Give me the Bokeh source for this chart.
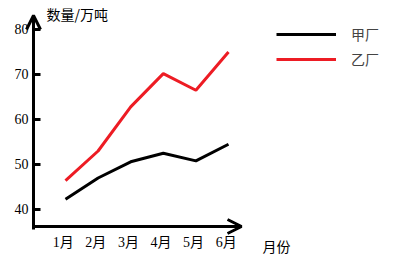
from bokeh.plotting import figure
from bokeh.models import Range1d, Legend, LegendItem, Arrow, OpenHead, Label
from bokeh.core.properties import value
from bokeh.embed import file_html
from bokeh.resources import INLINE

# ---- data ----
months = ["1月", "2月", "3月", "4月", "5月", "6月"]
jia = [42.3, 47.0, 50.6, 52.5, 50.8, 54.5]   # 甲厂
yi = [46.4, 53.0, 62.8, 70.2, 66.5, 75.0]    # 乙厂
y_ticks = [40, 50, 60, 70, 80]
y_title = "数量/万吨"
x_title = "月份"
series_names = ["甲厂", "乙厂"]

# ---- layout (pixels) ----
W, H = 406, 275
x0, x1 = -0.9939, 11.460
y0, y1 = 25.333, 86.444

def dx(px):
    return x0 + px / W * (x1 - x0)

def dy(py):
    return y1 - py / H * (y1 - y0)

FONT = "Liberation Serif, Noto Sans CJK SC"
CJK = "Noto Sans CJK SC"

p = figure(width=W, height=H, output_backend="svg", toolbar_location=None,
           x_range=Range1d(x0, x1), y_range=Range1d(y0, y1), min_border=0)
p.axis.visible = False
p.grid.visible = False
p.outline_line_color = None
p.background_fill_color = "white"
p.border_fill_color = "white"

xs = list(range(1, len(months) + 1))

# axes drawn on the plot's own scales
ax_x = dx(33)
ax_y = dy(226)
p.segment(x0=[ax_x], y0=[dy(15)], x1=[ax_x], y1=[dy(229)], line_color="black", line_width=3)
p.segment(x0=[ax_x], y0=[ax_y], x1=[dx(241)], y1=[ax_y], line_color="black", line_width=3)
p.segment(x0=[ax_x] * len(y_ticks), y0=y_ticks, x1=[dx(40)] * len(y_ticks), y1=y_ticks,
          line_color="black", line_width=3)
p.text(x=[dx(28)] * len(y_ticks), y=y_ticks, text=[str(t) for t in y_ticks],
       text_align="right", text_baseline="middle", text_font=value(FONT),
       text_font_size="14px", text_color="black")
p.text(x=[x - 0.07 for x in xs], y=[dy(242)] * len(xs), text=months,
       text_align="center", text_baseline="middle", text_font=value(FONT),
       text_font_size="14px", text_color="black")

r1 = p.line(xs, jia, line_color="black", line_width=3)
r2 = p.line(xs, yi, line_color="#ED1C24", line_width=3)

# arrow heads
p.add_layout(Arrow(end=OpenHead(size=14, line_width=3, line_color="black"),
                   x_start=ax_x, y_start=dy(17), x_end=ax_x, y_end=dy(15),
                   line_width=3, line_color="black"))
p.add_layout(Arrow(end=OpenHead(size=14, line_width=3, line_color="black"),
                   x_start=dx(238), y_start=ax_y, x_end=dx(241), y_end=ax_y,
                   line_width=3, line_color="black"))

# titles
p.add_layout(Label(x=dx(46), y=dy(13), text=y_title, text_baseline="middle",
                   text_font=CJK, text_font_size="14px", text_color="black"))
p.add_layout(Label(x=dx(262), y=dy(245), text=x_title, text_baseline="middle",
                   text_font=CJK, text_font_size="14px", text_color="black"))

legend = Legend(items=[LegendItem(label=series_names[0], renderers=[r1]),
                       LegendItem(label=series_names[1], renderers=[r2])],
                location=(276, H - 69), glyph_width=60, glyph_height=20,
                label_height=20, spacing=5, padding=0, margin=0,
                border_line_color=None, background_fill_alpha=0,
                label_standoff=15, label_text_font=CJK,
                label_text_font_size="14px", label_text_baseline="bottom")
p.add_layout(legend)

open("out.html", "w").write(file_html(p, INLINE))
